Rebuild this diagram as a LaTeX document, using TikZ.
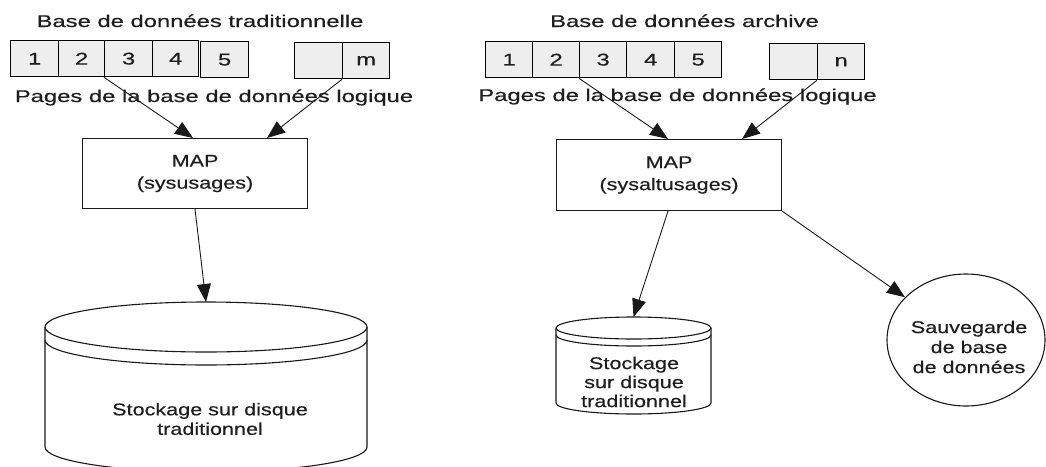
\documentclass[tikz,border=0pt]{standalone}
\usepackage{fontspec}
\setmainfont{Liberation Sans}
\newfontfamily\lblA[FakeStretch=1.4,FakeBold=0.4]{Liberation Sans}
\newfontfamily\lblB[FakeStretch=1.27,FakeBold=0.4]{Liberation Sans}
\usetikzlibrary{arrows.meta,shapes.geometric}
\definecolor{txt}{HTML}{1E1E1E}
\definecolor{pagefill}{HTML}{EEEEEE}
\tikzset{
  pg/.style={draw=black, line width=1.3pt, fill=pagefill, minimum height=36pt, inner sep=0pt, anchor=north west, text=txt, font=\lblA\fontsize{17}{19}\selectfont},
  mapbox/.style={draw=black!90, line width=1.1pt, inner sep=0pt, anchor=north west, align=center, text=txt, font=\lblB\fontsize{17}{22}\selectfont},
  title/.style={anchor=base, text=txt, inner sep=0pt, font=\lblA\fontsize{17}{19}\selectfont},
  body/.style={align=center, text=txt, inner sep=0pt, font=\lblB\fontsize{17}{19.5}\selectfont},
  arr/.style={line width=0.9pt, black!90, -{Triangle[length=18pt,width=14pt]}},
  outl/.style={draw=black!90, line width=1.1pt},
}
\begin{document}
\begin{tikzpicture}[x=1pt,y=1pt]
\useasboundingbox (0,0) rectangle (1046,-466);

% ---------- left ----------
\node[title] (tL) at (200,-27) {Base de données traditionnelle};
\node[pg, minimum width=48pt] (l1) at (10,-40) {1};
\node[pg, minimum width=46pt] (l2) at (58,-40) {2};
\node[pg, minimum width=48pt] (l3) at (104,-40) {3};
\node[pg, minimum width=46pt] (l4) at (152,-40) {4};
\node[pg, minimum width=48pt] (l5) at (200,-41) {5};
\node[pg, minimum width=48pt] (l6) at (294,-42) {};
\node[pg, minimum width=47pt] (lm) at (342,-42) {m};
\node[title] (pL) at (214,-102) {Pages de la base de données logique};

\node[mapbox, minimum width=225pt, minimum height=70pt] (mapL) at (82,-138) {MAP\\(sysusages)};

% left cylinder
\coordinate (cylLtop) at (206,-302);
\draw[outl, fill=white] (45,-327) -- (45,-447) arc[start angle=180,end angle=360,x radius=161,y radius=25] -- (367,-327);
\draw[outl] (206,-327) ellipse [x radius=161, y radius=25];
\draw[outl] (45,-340) arc[start angle=180,end angle=360,x radius=161,y radius=25];
\node[body] (cylL) at (210,-419) {Stockage sur disque\\traditionnel};

\draw[arr] (l3.south west) -- ([xshift=111pt]mapL.north west);
\draw[arr] (lm.south west) -- ([xshift=185pt]mapL.north west);
\draw[arr] ([xshift=113pt]mapL.south west) -- (cylLtop);

% ---------- right ----------
\node[title] (tR) at (684.5,-27) {Base de données archive};
\node[pg, minimum width=47pt] (r1) at (485,-41) {1};
\node[pg, minimum width=47pt] (r2) at (532,-41) {2};
\node[pg, minimum width=47pt] (r3) at (579,-41) {3};
\node[pg, minimum width=48pt] (r4) at (626,-41) {4};
\node[pg, minimum width=47pt] (r5) at (674,-41) {5};
\node[pg, minimum width=48pt] (r6) at (769,-43) {};
\node[pg, minimum width=47pt] (rn) at (817,-43) {n};
\node[title] (pR) at (677.5,-101) {Pages de la base de données logique};

\node[mapbox, minimum width=225pt, minimum height=71pt] (mapR) at (556,-139) {MAP\\(sysaltusages)};

% right cylinder
\coordinate (cylRtop) at (633.5,-317);
\draw[outl, fill=white] (556,-328) -- (556,-403) arc[start angle=180,end angle=360,x radius=77.5,y radius=11] -- (711,-328);
\draw[outl] (633.5,-328) ellipse [x radius=77.5, y radius=11];
\draw[outl] (556,-335) arc[start angle=180,end angle=360,x radius=77.5,y radius=11];
\node[body, font=\lblB\fontsize{17}{19}\selectfont] (cylR) at (634,-382) {Stockage\\sur disque\\traditionnel};

% backup circle
\node[outl, ellipse, minimum width=158pt, minimum height=132pt, inner sep=0pt] (circ) at (966,-340) {};
\node[body, font=\lblB\fontsize{17}{20}\selectfont] (circT) at (969,-347) {Sauvegarde\\de base\\de données};

\draw[arr] (r3.south west) -- ([xshift=112pt]mapR.north west);
\draw[arr] (rn.south west) -- ([xshift=186pt]mapR.north west);
\draw[arr] ([xshift=112pt]mapR.south west) -- (cylRtop);
\draw[arr] (mapR.south east) -- (circ);
\end{tikzpicture}
\end{document}
